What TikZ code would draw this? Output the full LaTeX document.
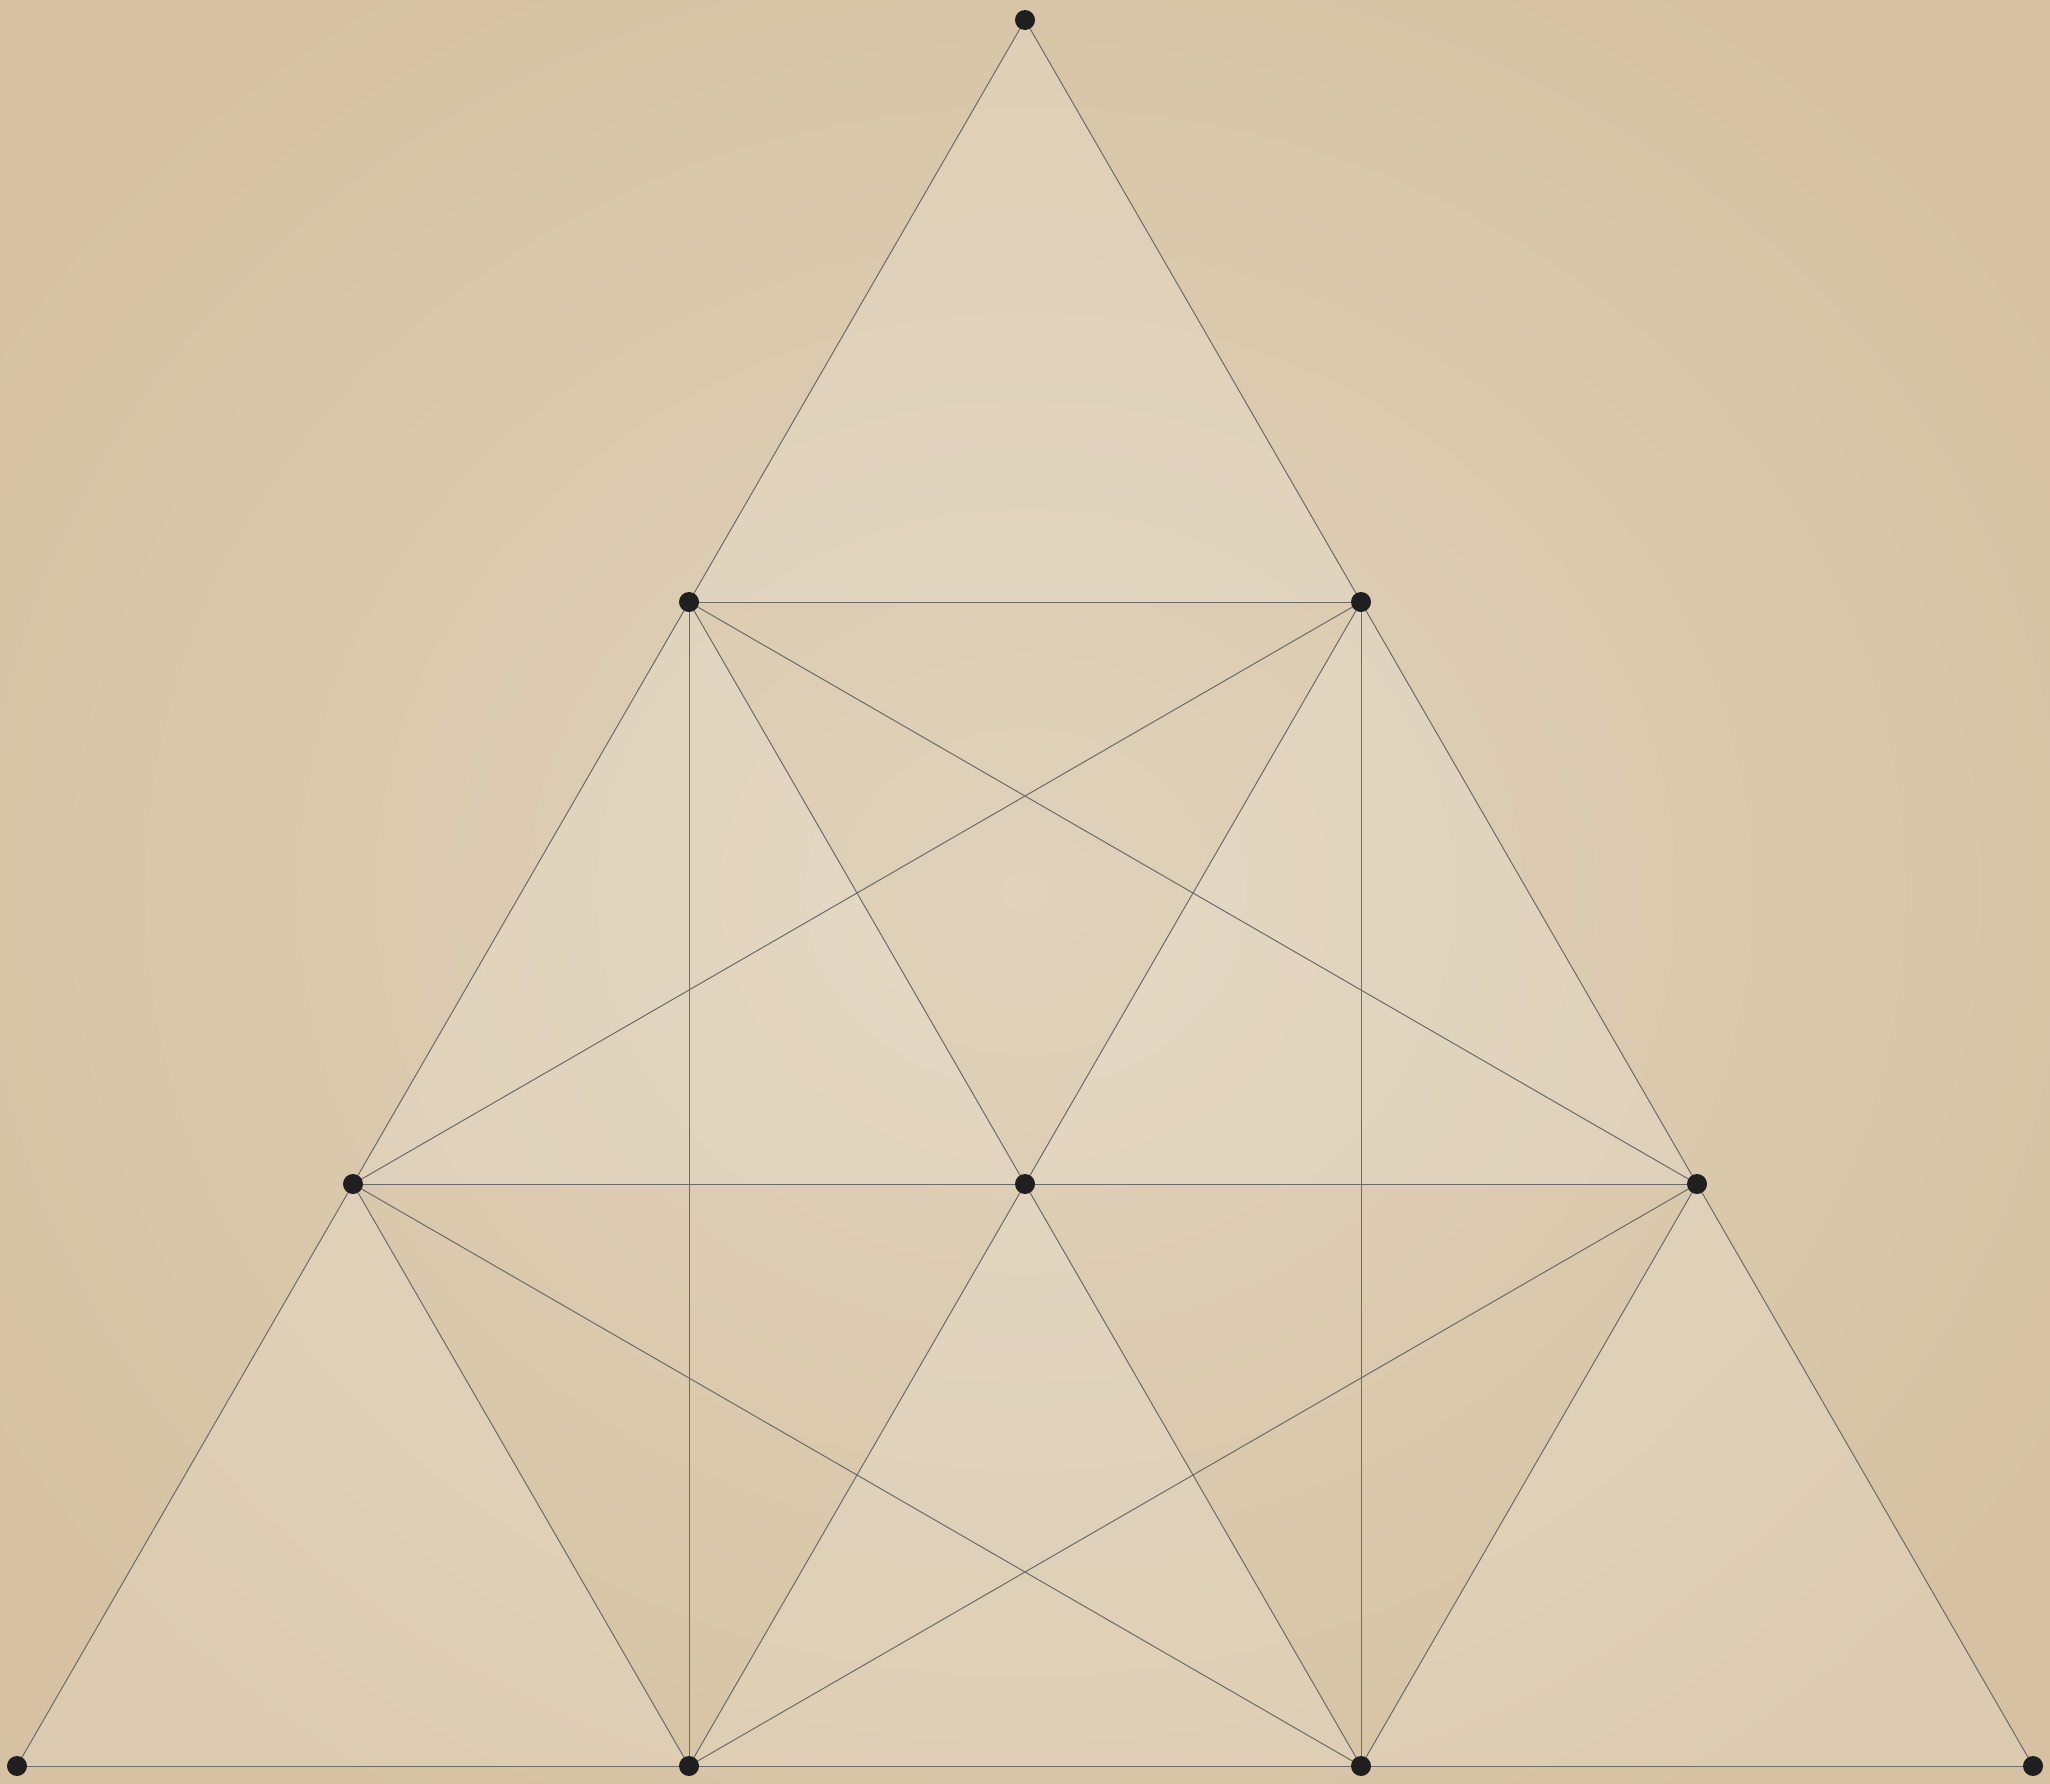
\documentclass[tikz,border=0pt]{standalone}
\begin{document}
\begin{tikzpicture}[x=1pt,y=-1pt,
  edge/.style={draw=black!58,line width=1pt},
  dot/.style={circle,fill=black!88,inner sep=0pt,minimum size=20pt},
  upfill/.style={fill=white,fill opacity=0.16}]
\definecolor{paperin}{HTML}{E0D2BB}
\definecolor{paperout}{HTML}{D6C2A2}
\useasboundingbox (0,0) rectangle (2050,1783);
\shade[inner color=paperin,outer color=paperout] (-200,-200) rectangle (2250,1983);
% vertices
\coordinate (t) at (1025,20);
\coordinate (a2) at (689,602);
\coordinate (b2) at (1361,602);
\coordinate (a3) at (353,1184);
\coordinate (b3) at (1025,1184);
\coordinate (c3) at (1697,1184);
\coordinate (a4) at (17,1766);
\coordinate (b4) at (689,1766);
\coordinate (c4) at (1361,1766);
\coordinate (d4) at (2033,1766);
% lighter upward triangles
\fill[upfill] (t) -- (a2) -- (b2) -- cycle;
\fill[upfill] (a2) -- (a3) -- (b3) -- cycle;
\fill[upfill] (b2) -- (b3) -- (c3) -- cycle;
\fill[upfill] (a3) -- (a4) -- (b4) -- cycle;
\fill[upfill] (b3) -- (b4) -- (c4) -- cycle;
\fill[upfill] (c3) -- (c4) -- (d4) -- cycle;
% grid lines
\draw[edge] (t) -- (a4);
\draw[edge] (t) -- (d4);
\draw[edge] (a2) -- (b2);
\draw[edge] (a3) -- (c3);
\draw[edge] (a4) -- (d4);
\draw[edge] (a2) -- (c4);
\draw[edge] (b2) -- (b4);
\draw[edge] (a3) -- (b4);
\draw[edge] (c3) -- (c4);
% verticals
\draw[edge] (a2) -- (b4);
\draw[edge] (b2) -- (c4);
% crossing lines
\draw[edge] (a2) -- (c3);
\draw[edge] (b2) -- (a3);
\draw[edge] (a3) -- (c4);
\draw[edge] (c3) -- (b4);
% dots
\foreach \p in {t,a2,b2,a3,b3,c3,a4,b4,c4,d4}
  \node[dot] (n\p) at (\p) {};
\end{tikzpicture}
\end{document}
